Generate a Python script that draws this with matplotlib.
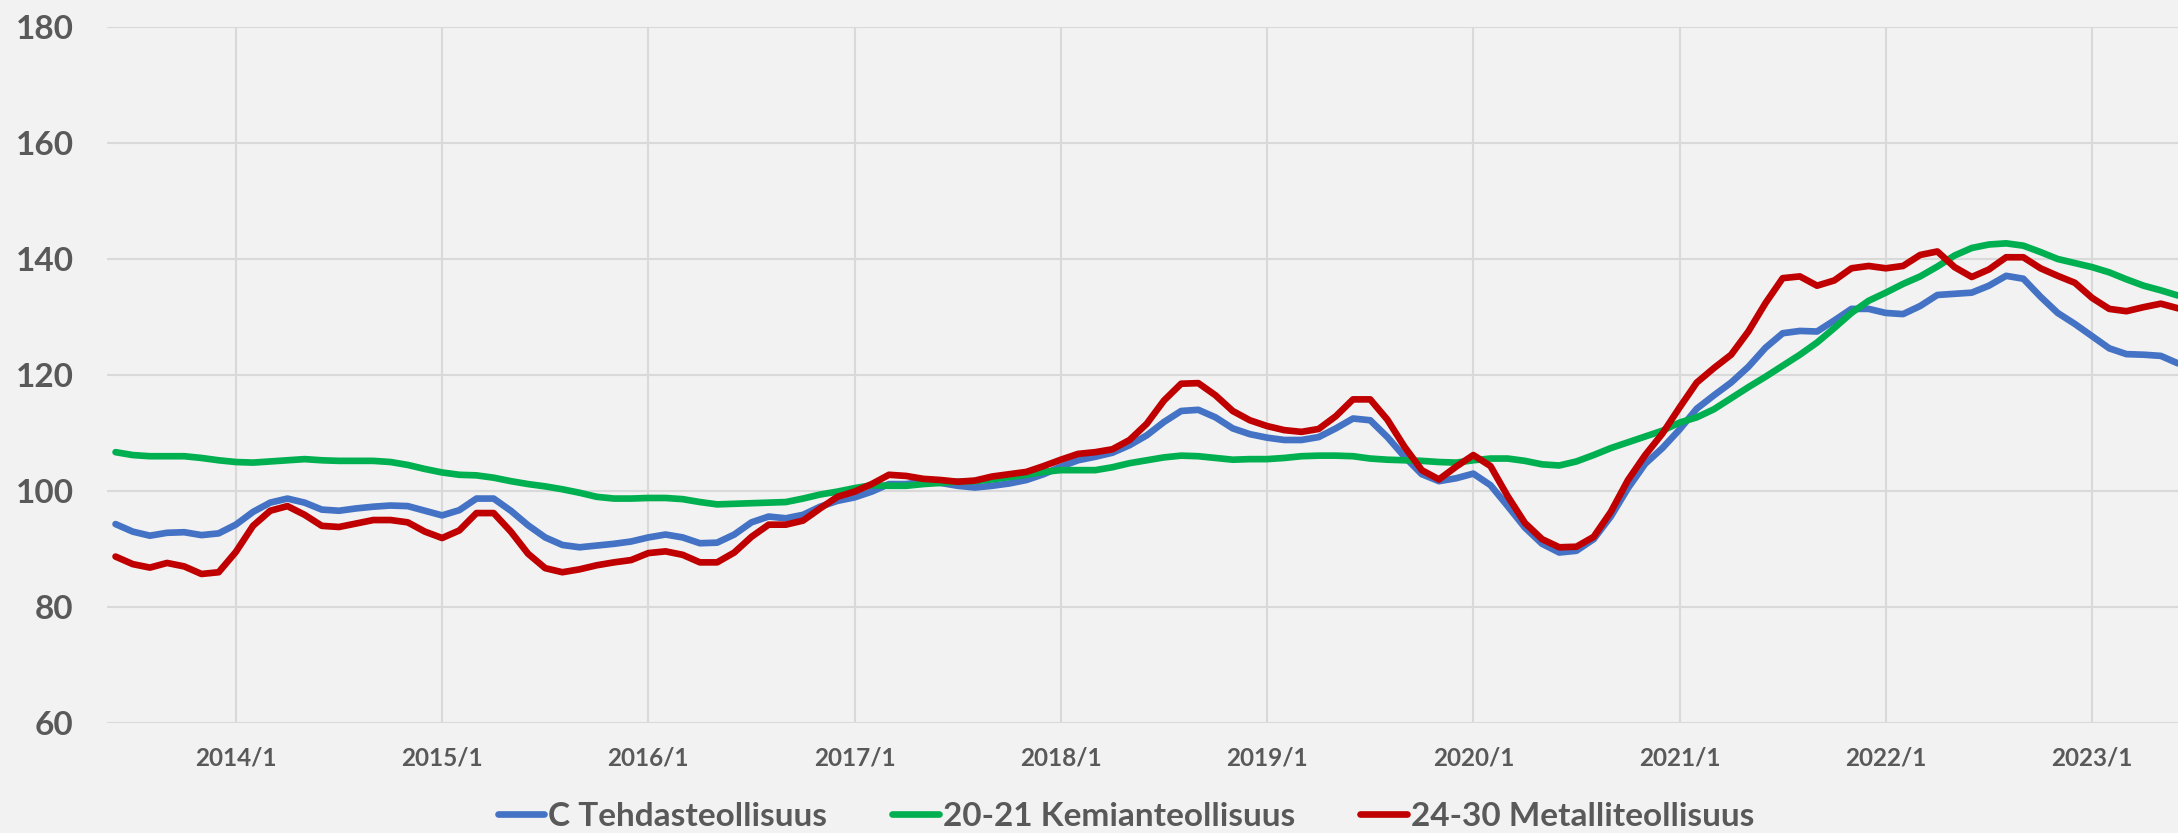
import numpy as np
import pandas as pd
import matplotlib
matplotlib.use('Agg')
import matplotlib.pyplot as plt

# kuukaudet 2013/6 - 2023/6
months = pd.date_range('2013-06-01', '2023-06-01', freq='MS')

tehdas = [94.3, 93.0, 92.3, 92.8, 92.9, 92.4, 92.7, 94.2, 96.4, 98.0,
          98.7, 98.0, 96.8, 96.6, 97.0, 97.3, 97.5, 97.4, 96.6, 95.8,
          96.7, 98.7, 98.7, 96.6, 94.1, 92.0, 90.7, 90.3, 90.6, 90.9,
          91.3, 92.0, 92.5, 92.0, 91.0, 91.1, 92.5,
          94.6, 95.6, 95.3, 95.9, 97.3, 98.3, 98.9, 99.9, 101.2, 101.2,
          101.6, 101.4, 100.9, 100.6, 100.9, 101.3, 101.9, 102.9, 104.2, 105.3,
          105.9, 106.6, 107.9, 109.6, 111.9, 113.8, 114.0, 112.7, 110.8, 109.8,
          109.2, 108.8, 108.8, 109.3, 110.8, 112.5, 112.2, 109.3, 105.9, 102.9,
          101.7,
          102.2, 103.0, 101.0, 97.4, 93.7, 90.9, 89.4, 89.7, 91.7, 95.6,
          100.5, 104.7, 107.4, 110.6,
          114.2, 116.5, 118.7, 121.4, 124.7, 127.2, 127.6, 127.5, 129.4, 131.4,
          131.4, 130.7, 130.5, 131.9, 133.8, 134.0, 134.2, 135.4, 137.1, 136.6,
          133.5, 130.7, 128.8, 126.7, 124.6, 123.6, 123.5, 123.3, 122.0]

kemia = [106.7, 106.2, 106.0, 106.0, 106.0, 105.7, 105.3, 105.0, 104.9, 105.1,
         105.3, 105.5, 105.3, 105.2, 105.2, 105.2, 105.0, 104.5, 103.8, 103.2,
         102.8, 102.7, 102.3, 101.7, 101.2, 100.8, 100.3, 99.7, 99.0, 98.7,
         98.7, 98.8, 98.8, 98.6, 98.1, 97.7, 97.8,
         97.9, 98.0, 98.1, 98.7, 99.4, 99.9, 100.5, 101.0, 100.9, 100.9,
         101.2, 101.4, 101.6, 101.7, 102.0, 102.4, 102.8, 103.3, 103.6, 103.6,
         103.6, 104.1, 104.8, 105.3, 105.8, 106.1, 106.0, 105.7, 105.4, 105.5,
         105.5, 105.7, 106.0, 106.1, 106.1, 106.0, 105.6, 105.4, 105.3, 105.2,
         105.0,
         104.9, 105.3, 105.6, 105.6, 105.2, 104.6, 104.4, 105.1, 106.2, 107.4,
         108.4, 109.4, 110.4,
         111.8, 112.7, 114.1, 116.0, 117.9, 119.7, 121.6, 123.5, 125.6, 128.1,
         130.7, 132.8, 134.2, 135.7, 137.0, 138.7, 140.6, 141.9, 142.5, 142.7,
         142.3, 141.2, 140.0, 139.3, 138.6, 137.7, 136.5, 135.4, 134.6, 133.7]

metalli = [88.7, 87.4, 86.8, 87.6, 87.0, 85.7, 86.0, 89.5, 94.0, 96.6,
           97.4, 95.9, 94.0, 93.8, 94.4, 95.0, 95.0, 94.6, 93.0, 91.9,
           93.2, 96.2, 96.2, 93.0, 89.2, 86.7, 86.0, 86.5, 87.2, 87.7,
           88.1, 89.3, 89.6, 89.0, 87.7, 87.7, 89.4,
           92.1, 94.2, 94.2, 94.9, 97.0, 99.0, 99.9, 101.2, 102.8, 102.6,
           102.1, 101.9, 101.6, 101.8, 102.5, 102.9, 103.3, 104.3, 105.4, 106.4,
           106.7, 107.2, 108.8, 111.6, 115.6, 118.5, 118.6, 116.5, 113.8, 112.2,
           111.2, 110.5, 110.2, 110.7, 112.9, 115.8, 115.8, 112.3, 107.6, 103.6,
           102.0,
           104.2, 106.2, 104.3, 99.1, 94.5, 91.7, 90.3, 90.4, 92.1, 96.4,
           101.9, 106.2, 109.9, 114.4,
           118.7, 121.2, 123.5, 127.5, 132.4, 136.7, 137.0, 135.4, 136.3, 138.4,
           138.8, 138.4, 138.8, 140.7, 141.3, 138.6, 136.9, 138.2, 140.3, 140.3,
           138.4, 137.1, 135.9, 133.3, 131.4, 131.0, 131.7, 132.3, 131.5]

sarjat = ['C Tehdasteollisuus', '20-21 Kemianteollisuus', '24-30 Metalliteollisuus']
varit = ['#4472C4', '#00B050', '#C00000']

plt.rcParams['font.family'] = ['Lato', 'DejaVu Sans']
bg = '#F2F2F2'
txt = '#595959'

x = np.arange(len(months))
tick_pos = x[months.month == 1]
tick_lab = ['%d/1' % y for y in months.year[months.month == 1]]

fig = plt.figure(figsize=(21.78, 8.33), dpi=100, facecolor=bg)
ax = fig.add_axes([0.0491, 0.132, 0.9509, 0.8356])
ax.set_facecolor(bg)

# piirtojärjestys: vihreä alle, punainen päälle
for i in [1, 0, 2]:
    y = [tehdas, kemia, metalli][i]
    ax.plot(x, y, color=varit[i], lw=4.8, label=sarjat[i],
            solid_joinstyle='round', solid_capstyle='round', zorder=3 + i)

ax.set_xlim(-0.5, 120)
ax.set_ylim(60, 180)
ax.set_yticks(range(60, 181, 20))
ax.set_xticks(tick_pos)
ax.set_xticklabels(tick_lab)
ax.grid(True, color='#D9D9D9', lw=1.5)
ax.set_axisbelow(True)
for s in ax.spines.values():
    s.set_visible(False)
ax.tick_params(axis='y', length=0, pad=24, labelsize=24, labelcolor=txt)
ax.tick_params(axis='x', length=0, pad=17, labelsize=17.5, labelcolor=txt)
for t in ax.get_xticklabels() + ax.get_yticklabels():
    t.set_fontweight('bold')

h, l = ax.get_legend_handles_labels()
order = [l.index(s) for s in sarjat]
leg = fig.legend([h[k] for k in order], sarjat, loc='center',
                 bbox_to_anchor=(0.517, 0.02), ncol=3, frameon=False,
                 handlelength=1.4, handletextpad=0.12, columnspacing=1.95,
                 prop={'size': 24, 'weight': 'bold'})
for t in leg.get_texts():
    t.set_color(txt)

plt.savefig('out.png', dpi=100, facecolor=bg)
